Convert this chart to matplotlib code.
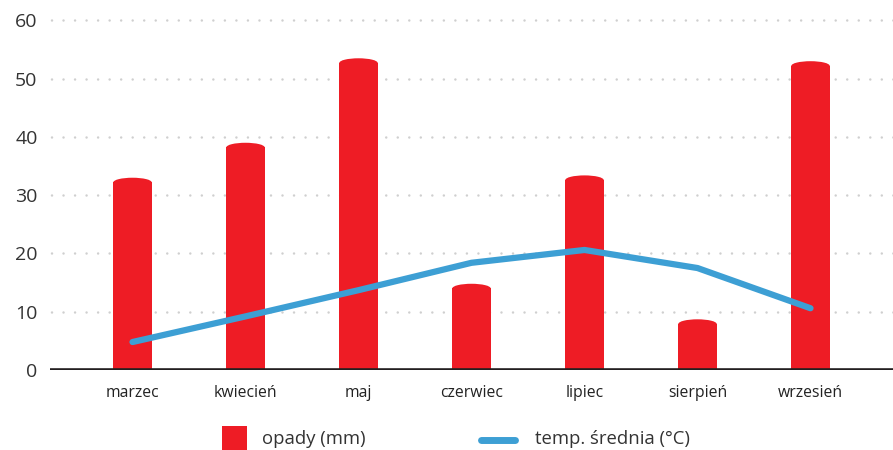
import matplotlib
matplotlib.use("Agg")
import matplotlib.pyplot as plt
from matplotlib.patches import Ellipse, Rectangle
from matplotlib.lines import Line2D

plt.rcParams["font.family"] = ["Open Sans", "DejaVu Sans"]

months = ["marzec", "kwiecień", "maj", "czerwiec", "lipiec", "sierpień", "wrzesień"]
opady = [33, 39, 53.5, 14.8, 33.4, 8.7, 53]
temp = [4.8, 9.2, 13.7, 18.4, 20.6, 17.5, 10.6]
y_ticks = [0, 10, 20, 30, 40, 50, 60]

RED = "#ee1c25"
BLUE = "#3d9fd4"
BAR_W = 0.34
CAP_H = 1.6

fig = plt.figure(figsize=(8.93, 4.5), dpi=100)
ax = fig.add_axes([50 / 893, 80 / 450, 843 / 893, 356 / 450])

x = list(range(len(months)))

# bars with a rounded top
ax.bar(x, [v - CAP_H / 2 for v in opady], width=BAR_W, color=RED, zorder=2, lw=0)
for xi, v in zip(x, opady):
    ax.add_patch(Ellipse((xi, v - CAP_H / 2), BAR_W, CAP_H, color=RED, zorder=2, lw=0))

ax.plot(x, temp, color=BLUE, lw=4.5, solid_capstyle="round", solid_joinstyle="round", zorder=3)

ax.set_xlim(-0.73, 6.73)
ax.set_ylim(0, 61.1)
ax.set_yticks(y_ticks)
for t in y_ticks[1:]:
    ax.axhline(t, color="#cfcfcf", lw=1.8, ls=(-0.6, (0.01, 4.6)), zorder=1,
               dash_capstyle="round", clip_on=False)
ax.axhline(0, color="#231f20", lw=2.6, zorder=4)

for s in ax.spines.values():
    s.set_visible(False)
ax.tick_params(axis="both", length=0)
ax.tick_params(axis="y", labelsize=14, colors="#333333", pad=9)
ax.tick_params(axis="x", labelsize=11.3, colors="#222222", pad=11)
ax.set_xticks(x)
ax.set_xticklabels(months)

# legend
fig.add_artist(Rectangle((222 / 893, 0), 25 / 893, 24 / 450,
                         transform=fig.transFigure, color=RED, lw=0))
fig.text(262 / 893, 1 - 439 / 450, "opady (mm)", fontsize=13.3, color="#333333", va="center")
fig.add_artist(Line2D([481 / 893, 515 / 893], [1 - 440 / 450] * 2, transform=fig.transFigure,
                      color=BLUE, lw=5, solid_capstyle="round"))
fig.text(535 / 893, 1 - 439 / 450, "temp. średnia (°C)", fontsize=13.3, color="#333333", va="center")

fig.savefig("out.png", dpi=100)
